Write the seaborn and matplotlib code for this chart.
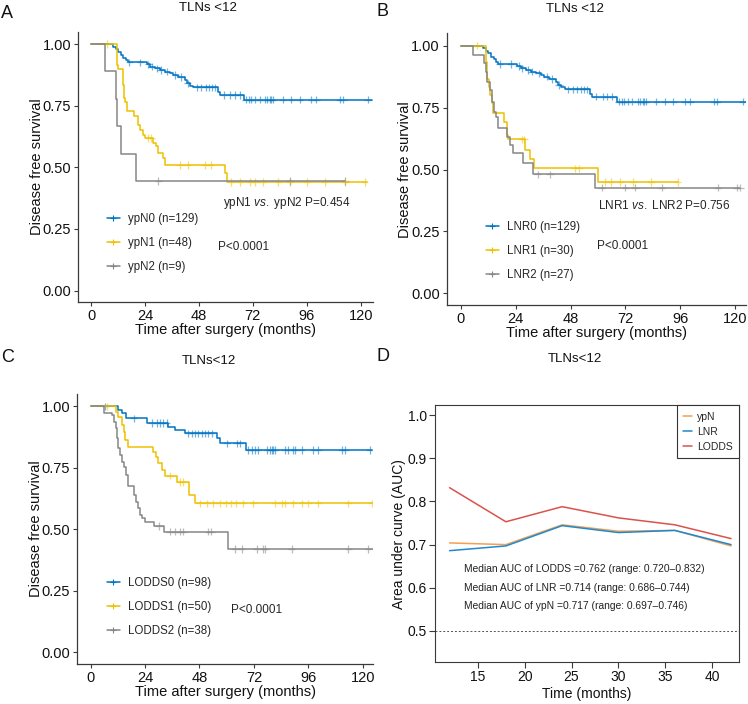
import numpy as np
import pandas as pd
import matplotlib
matplotlib.use("Agg")
import matplotlib.pyplot as plt
from matplotlib.lines import Line2D
import seaborn as sns

# =========================
# Data
# =========================
KM_COLORS = ["#0073C2", "#EFC000", "#868686"]

# A - ypN
ypn0_t = [0, 9.9, 11.0, 12.1, 13.3, 14.4, 15.4, 16.3, 24.7, 26.2, 28.4, 30.7, 32.9, 35.1, 36.6,
          38.8, 41.8, 42.5, 44.0, 45.5, 56.3, 57.3, 68.1, 125]
ypn0_s = [1.0, 0.989, 0.980, 0.969, 0.956, 0.945, 0.935, 0.926, 0.918, 0.908, 0.902, 0.895, 0.888,
          0.882, 0.875, 0.866, 0.855, 0.841, 0.832, 0.824, 0.805, 0.794, 0.774, 0.774]
ypn0_c = [17, 22, 25.5, 27, 29.5, 31, 34, 37.5, 40, 43, 47, 49, 51, 52.5, 54, 55, 59, 62, 64, 66.2,
          69, 70.5, 71.4, 73, 75, 77.3, 78.5, 79.5, 80.3, 81, 85.5, 89.2, 92.9, 98, 100.3, 110.7,
          112.1, 123.3]

ypn1_t = [0, 11.4, 12.2, 14.3, 14.7, 15.3, 15.9, 19.3, 21, 22, 23, 24, 27.7, 28.8, 30, 32, 33,
          59.6, 60.5, 123]
ypn1_s = [1.0, 0.915, 0.898, 0.835, 0.781, 0.767, 0.727, 0.707, 0.673, 0.653, 0.633, 0.619, 0.599,
          0.585, 0.559, 0.536, 0.509, 0.477, 0.441, 0.441]
ypn1_c = [7, 25.5, 26.8, 39.6, 43, 50.7, 53.3, 62.5, 66.2, 70.7, 72.9, 76.6, 83.3, 88.4, 95.9, 104,
          113, 121.8]

ypn2_t = [0, 6, 11, 11.5, 13.3, 20, 113]
ypn2_s = [1.0, 0.889, 0.778, 0.667, 0.556, 0.444, 0.444]
ypn2_c = [30, 88.4, 113]

# B - LNR (LNR0 is the same patient group as ypN0)
lnr0_t, lnr0_s, lnr0_c = ypn0_t, ypn0_s, ypn0_c

lnr1_t = [0, 10.9, 11.6, 12.3, 13.0, 13.7, 14.3, 19.0, 20.3, 20.8, 28.1, 30.3, 32.0, 60.1, 94.8]
lnr1_s = [1.0, 0.933, 0.867, 0.833, 0.8, 0.767, 0.727, 0.69, 0.64, 0.622, 0.579, 0.543, 0.505,
          0.45, 0.45]
lnr1_c = [7, 26.6, 27.6, 49.9, 51.7, 63, 65.8, 69.6, 75.3, 83.1, 94.8]

lnr2_t = [0, 5.5, 10.3, 10.9, 11.6, 12.8, 13.5, 14.7, 15.3, 16.4, 20.1, 21.5, 23, 27.3, 31.7,
          58.6, 122]
lnr2_s = [1.0, 0.963, 0.929, 0.895, 0.855, 0.821, 0.774, 0.734, 0.713, 0.669, 0.633, 0.599, 0.566,
          0.525, 0.481, 0.427, 0.427]
lnr2_c = [33.6, 39, 61.6, 72, 76.1, 87.8, 112.2, 120.5, 122]

# C - LODDS
lodds0_t = [0, 12, 13.9, 15.4, 24.7, 34.2, 37.2, 41.6, 55.6, 57, 68.4, 124]
lodds0_s = [1.0, 0.985, 0.971, 0.951, 0.931, 0.917, 0.904, 0.89, 0.87, 0.849, 0.822, 0.822]
lodds0_c = [6.3, 19, 26.9, 29.1, 30.6, 32, 33.5, 43, 44.5, 46, 47.5, 49, 50.4, 51.9, 53.4, 60, 64.4,
            65.9, 69.5, 71, 72.5, 73.9, 77.6, 79.1, 79.8, 80.5, 81.3, 85.7, 87.2, 89.4, 90.1, 93.1,
            98.2, 100.4, 110.7, 112.2, 123.2]

lodds1_t = [0, 11, 12.2, 13.9, 14.5, 15.1, 16.3, 27.6, 28.7, 29.8, 31.3, 32.8, 37.9, 43.4, 46, 124]
lodds1_s = [1.0, 0.978, 0.958, 0.924, 0.897, 0.863, 0.836, 0.815, 0.795, 0.768, 0.741, 0.718, 0.691,
            0.639, 0.605, 0.605]
lodds1_c = [7, 35, 39.4, 40.8, 48.2, 51.2, 54.1, 57, 59.9, 62.1, 64.3, 67.3, 71.7, 81.3, 84.2, 85.7,
            89.4, 93.1, 96, 100.4, 113.6, 124]

lodds2_t = [0, 6, 9.5, 10.1, 11, 11.6, 12.2, 13.1, 13.9, 14.8, 15.4, 16.3, 19.2, 20, 20.7, 21.7,
            22.8, 24, 28.1, 32.2, 60.7, 124.5]
lodds2_s = [1.0, 0.974, 0.965, 0.937, 0.910, 0.870, 0.829, 0.802, 0.775, 0.754, 0.720, 0.676, 0.639,
            0.612, 0.585, 0.558, 0.545, 0.530, 0.513, 0.490, 0.419, 0.419]
lodds2_c = [30.1, 35, 37.2, 39.4, 40.8, 51.9, 53.1, 63.7, 66.6, 73.2, 76.2, 76.9, 88.6, 113.6, 122.5]

# D - time dependent AUC
auc_time = [12, 18, 24, 30, 36, 42]
auc_ypn = [0.704, 0.700, 0.746, 0.731, 0.733, 0.697]
auc_lnr = [0.686, 0.697, 0.744, 0.728, 0.733, 0.700]
auc_lodds = [0.832, 0.753, 0.788, 0.762, 0.746, 0.714]
auc_models = ["ypN", "LNR", "LODDS"]
AUC_COLORS = ["#F4A04E", "#1E88D2", "#D9534B"]
auc_notes = ["Median AUC of LODDS =0.762 (range: 0.720\u20130.832)",
             "Median AUC of LNR =0.714 (range: 0.686\u20130.744)",
             "Median AUC of ypN =0.717 (range: 0.697\u20130.746)"]

# =========================
# Style
# =========================
sns.set_theme(style="ticks")
plt.rcParams['font.family'] = ['Liberation Sans', 'DejaVu Sans']
plt.rcParams['mathtext.fontset'] = 'custom'
plt.rcParams['mathtext.rm'] = 'Liberation Sans'
plt.rcParams['mathtext.it'] = 'Liberation Sans:italic'

AX_COL = "#3a3a3a"

fig = plt.figure(figsize=(7.48, 7.04), dpi=100)


def km_panel(ax, curves, labels, xlim, ylim, leg_anchor):
    lines = []
    marks = []
    for (t, s, c), lab in zip(curves, labels):
        lines.append(pd.DataFrame({"time": t, "surv": s, "group": lab}))
        idx = np.searchsorted(t, c, side="right") - 1
        marks.append(pd.DataFrame({"time": c, "surv": np.array(s)[idx], "group": lab}))
    line_df = pd.concat(lines, ignore_index=True)
    mark_df = pd.concat(marks, ignore_index=True)

    sns.lineplot(data=line_df, x="time", y="surv", hue="group", palette=KM_COLORS,
                 drawstyle="steps-post", estimator=None, sort=False, lw=1.1,
                 legend=False, ax=ax)
    sns.scatterplot(data=mark_df, x="time", y="surv", hue="group", palette=KM_COLORS,
                    marker="+", s=28, linewidth=0.9, alpha=0.55, legend=False, ax=ax)

    ax.set_xlim(*xlim)
    ax.set_ylim(*ylim)
    ax.set_xticks([0, 24, 48, 72, 96, 120])
    ax.set_yticks([0, 0.25, 0.5, 0.75, 1.0])
    ax.set_yticklabels(["0.00", "0.25", "0.50", "0.75", "1.00"])
    ax.set_xlabel("Time after surgery (months)", fontsize=10.5, labelpad=0, color="#111")
    ax.set_ylabel("Disease free survival", fontsize=10.5, labelpad=-1, color="#111")
    ax.tick_params(direction="out", length=3, width=0.8, color=AX_COL, labelsize=10.5,
                   labelcolor="#111", pad=2)
    sns.despine(ax=ax)
    for sp in ["left", "bottom"]:
        ax.spines[sp].set_color(AX_COL)
        ax.spines[sp].set_linewidth(0.9)

    handles = [Line2D([0], [0], color=col, lw=1.1, marker="+", markersize=5, markeredgewidth=0.8)
               for col in KM_COLORS]
    ax.legend(handles, labels, loc="upper left", bbox_to_anchor=leg_anchor, frameon=False,
              fontsize=8.3, handlelength=1.1, handletextpad=0.7, labelspacing=1.05,
              borderaxespad=0, borderpad=0)


# ---- A ----
axA = fig.add_axes([0.1043, 0.5714, 0.3944, 0.3835])
km_panel(axA, [(ypn0_t, ypn0_s, ypn0_c), (ypn1_t, ypn1_s, ypn1_c), (ypn2_t, ypn2_s, ypn2_c)],
         ["ypN0 (n=129)", "ypN1 (n=48)", "ypN2 (n=9)"],
         (-5.8, 125.5), (-0.045, 1.05), (0.098, 0.33))
axA.text(58.7, 0.357, "ypN1 $\\it{vs.}$ ypN2 P=0.454", fontsize=8.5, va="center")
axA.text(56.4, 0.176, "P<0.0001", fontsize=8.5, va="center")

# ---- B ----
axB = fig.add_axes([0.5972, 0.5668, 0.3997, 0.3859])
km_panel(axB, [(lnr0_t, lnr0_s, lnr0_c), (lnr1_t, lnr1_s, lnr1_c), (lnr2_t, lnr2_s, lnr2_c)],
         ["LNR0 (n=129)", "LNR1 (n=30)", "LNR2 (n=27)"],
         (-6.1, 124.5), (-0.047, 1.05), (0.131, 0.31))
axB.text(60, 0.354, "LNR1 $\\it{vs.}$ LNR2 P=0.756", fontsize=8.5, va="center")
axB.text(59.4, 0.191, "P<0.0001", fontsize=8.5, va="center")

# ---- C ----
axC = fig.add_axes([0.1033, 0.0564, 0.3953, 0.3844])
km_panel(axC, [(lodds0_t, lodds0_s, lodds0_c), (lodds1_t, lodds1_s, lodds1_c),
               (lodds2_t, lodds2_s, lodds2_c)],
         ["LODDS0 (n=98)", "LODDS1 (n=50)", "LODDS2 (n=38)"],
         (-5.9, 124.5), (-0.05, 1.051), (0.100, 0.323))
axC.text(61.8, 0.172, "P<0.0001", fontsize=8.5, va="center")

# ---- D ----
axD = fig.add_axes([0.5816, 0.0597, 0.4064, 0.3646])
auc_df = pd.DataFrame({
    "time": auc_time * 3,
    "auc": auc_ypn + auc_lnr + auc_lodds,
    "model": [m for m in auc_models for _ in auc_time],
})
sns.lineplot(data=auc_df, x="time", y="auc", hue="model", hue_order=auc_models,
             palette=AUC_COLORS, lw=1.1, estimator=None, ax=axD)
axD.axhline(0.5, ls=(0, (2, 2)), color="#555", lw=0.7)
for i, note in enumerate(auc_notes):
    axD.text(13.55, 0.643 - 0.0425 * i, note, fontsize=7.4, va="center", color="#222")
axD.set_xlim(10.45, 42.85)
axD.set_ylim(0.428, 1.023)
axD.set_xticks([15, 20, 25, 30, 35, 40])
axD.set_yticks([0.5, 0.6, 0.7, 0.8, 0.9, 1.0])
axD.set_yticklabels(["0.5", "0.6", "0.7", "0.8", "0.9", "1.0"])
axD.set_xlabel("Time (months)", fontsize=10, labelpad=2, color="#111")
axD.set_ylabel("Area under curve (AUC)", fontsize=10, labelpad=1, color="#111")
axD.tick_params(direction="out", length=4, width=0.8, color=AX_COL, labelsize=10,
                labelcolor="#111", pad=2)
for sp in axD.spines.values():
    sp.set_color(AX_COL)
    sp.set_linewidth(0.8)
legD = axD.legend(loc="upper right", borderaxespad=0, fontsize=7.5, handlelength=0.8,
                  handletextpad=0.5, labelspacing=0.5, fancybox=False, framealpha=1,
                  edgecolor="#333", borderpad=0.6, title=None)
legD.get_frame().set_linewidth(0.8)

# ---- panel titles and letters ----
for x, y, txt in [(208, 8, "TLNs <12"), (575, 9.5, "TLNs <12"),
                  (208.5, 360.5, "TLNs<12"), (575, 359.5, "TLNs<12")]:
    fig.text(x / 748, 1 - y / 704, txt, ha="center", va="center", fontsize=9.5, color="#111")
for x, y, txt in [(1, 14, "A"), (377, 12, "B"), (1, 357, "C"), (377, 356, "D")]:
    fig.text(x / 748, 1 - y / 704, txt, ha="left", va="center", fontsize=13, color="#111")

fig.savefig("out.png", dpi=100)
